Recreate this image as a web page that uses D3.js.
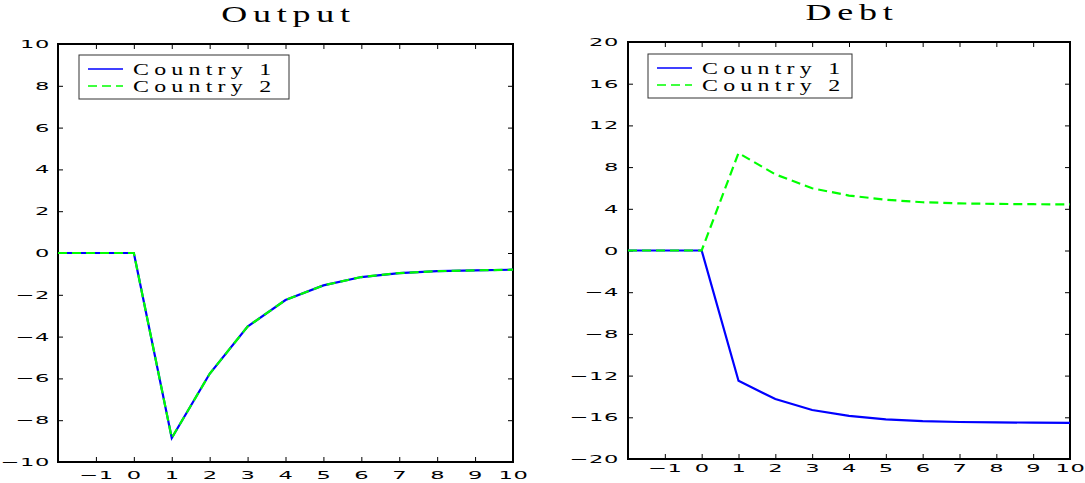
<!DOCTYPE html>
<html>
<head>
<meta charset="utf-8">
<script src="https://cdn.jsdelivr.net/npm/d3@7"></script>
<style>
  body { margin: 0; background: #fff; }
</style>
</head>
<body>
<script>
var periods = [-2, -1, 0, 1, 2, 3, 4, 5, 6, 7, 8, 9, 10];
var outputC1 = [0, 0, 0, -8.85, -5.78, -3.52, -2.25, -1.55, -1.15, -0.96, -0.87, -0.83, -0.80];
var outputC2 = [0, 0, 0, -8.85, -5.78, -3.52, -2.25, -1.55, -1.15, -0.96, -0.87, -0.83, -0.80];
var debtC1 = [0, 0, 0, -12.5, -14.25, -15.3, -15.87, -16.19, -16.37, -16.45, -16.49, -16.51, -16.53];
var debtC2 = [0, 0, 0, 9.35, 7.3, 5.97, 5.27, 4.87, 4.63, 4.52, 4.47, 4.44, 4.42];
var seriesNames = ["Country 1", "Country 2"];
var xTicks = [-1, 0, 1, 2, 3, 4, 5, 6, 7, 8, 9, 10];
var outputTicks = [-10, -8, -6, -4, -2, 0, 2, 4, 6, 8, 10];
var debtTicks = [-20, -16, -12, -8, -4, 0, 4, 8, 12, 16, 20];

var svg = d3.select("body")
            .append("svg")
            .attr('width', 1085)
            .attr('height', 483);

var tickSx = 2.05;      // glyphs in the reference are stretched wide
var titleSx = 1.6;
var legendSx = 1.45;

// stretched text: a group translated to the anchor, scaled horizontally
function wideText(parent, x, y, str, o) {
    parent.append("g")
          .attr('transform', "translate(" + x + "," + y + ") scale(" + o.sx + ",1)")
          .append("text")
          .attr('text-anchor', o.anchor || "start")
          .style('font-family', o.font)
          .style('font-size', o.size + "px")
          .style('letter-spacing', o.ls + "px")
          .attr('fill', "#000")
          .text(str);
}

function panel(p) {
    var g = svg.append("g");

    var x = d3.scaleLinear().domain([-2, 10]).range([p.x0, p.x1]);
    var y = d3.scaleLinear().domain(p.yDomain).range([p.y0, p.y1]);

    var tickFont = function(sel) {
        sel.selectAll("text")
           .style('font-family', "DejaVu Sans")
           .style('font-size', "11px")
           .style('letter-spacing', "0.3px")
           .attr('fill', "#000");
    };

    // bottom axis
    var bx = g.append("g")
              .attr('transform', "translate(0," + p.y0 + ")")
              .call(d3.axisBottom(x).tickValues(xTicks).tickSizeInner(-5).tickSizeOuter(0).tickPadding(p.xPad));
    tickFont(bx);
    bx.selectAll("text").attr('transform', "scale(" + tickSx + ",1)");

    // left axis
    var ly = g.append("g")
              .attr('transform', "translate(" + p.x0 + ",0)")
              .call(d3.axisLeft(y).tickValues(p.yTicks).tickSizeInner(-5).tickSizeOuter(0).tickPadding(p.yPad));
    tickFont(ly);
    ly.selectAll("text")
      .attr('x', -p.yPad / tickSx)
      .attr('transform', "scale(" + tickSx + ",1)");

    // top + right ticks, no labels
    g.append("g")
     .attr('transform', "translate(0," + p.y1 + ")")
     .call(d3.axisTop(x).tickValues(xTicks).tickSizeInner(-5).tickSizeOuter(0).tickFormat(""));
    g.append("g")
     .attr('transform', "translate(" + p.x1 + ",0)")
     .call(d3.axisRight(y).tickValues(p.yTicks).tickSizeInner(-5).tickSizeOuter(0).tickFormat(""));

    g.selectAll(".domain").remove();
    g.selectAll(".tick line").attr('stroke', "#000").attr('stroke-width', 1);

    g.append("rect")
     .attr('x', p.x0)
     .attr('y', p.y1)
     .attr('width', p.x1 - p.x0)
     .attr('height', p.y0 - p.y1)
     .attr('fill', "none")
     .attr('stroke', "#000")
     .attr('stroke-width', 2);

    var line = d3.line()
                 .x(function(d, i) { return x(periods[i]); })
                 .y(function(d) { return y(d); });

    g.append("path")
     .datum(p.s1)
     .attr('d', line)
     .attr('fill', "none")
     .attr('stroke', "#0000ff")
     .attr('stroke-width', 2.2);

    g.append("path")
     .datum(p.s2)
     .attr('d', line)
     .attr('fill', "none")
     .attr('stroke', "#00ff00")
     .attr('stroke-width', 2.2)
     .attr('stroke-dasharray', "9,5");

    // title
    wideText(g, (p.x0 + p.x1) / 2 + 3, p.titleY, p.title,
             {sx: titleSx, anchor: "middle", font: "Liberation Serif", size: 22.5, ls: 3.6});

    // legend
    var L = p.legend;
    g.append("rect")
     .attr('x', L.x).attr('y', L.y)
     .attr('width', L.w).attr('height', L.h)
     .attr('fill', "#fff")
     .attr('stroke', "#333")
     .attr('stroke-width', 1);

    var colors = ["#0000ff", "#00ff00"];
    var dashes = [null, "9,5"];
    seriesNames.forEach(function(name, i) {
        var ry = L.y + 14 + i * 17;
        g.append("line")
         .attr('x1', L.x + 9).attr('x2', L.x + 44)
         .attr('y1', ry).attr('y2', ry)
         .attr('stroke', colors[i])
         .attr('stroke-width', 1.5)
         .attr('stroke-dasharray', dashes[i]);
        wideText(g, L.x + 54, L.y + 20 + i * 17, name,
                 {sx: legendSx, font: "Liberation Serif", size: 16.5, ls: 3.6});
    });
}

panel({x0: 58, x1: 513, y0: 462, y1: 44, yDomain: [-10, 10], yTicks: outputTicks,
       s1: outputC1, s2: outputC2, title: "Output", titleY: 21.5,
       legend: {x: 79, y: 55, w: 210, h: 44}, yPad: 8, xPad: 9});

panel({x0: 628, x1: 1070, y0: 459, y1: 42, yDomain: [-20, 20], yTicks: debtTicks,
       s1: debtC1, s2: debtC2, title: "Debt", titleY: 20,
       legend: {x: 648, y: 54, w: 204, h: 44}, yPad: 9, xPad: 5});
</script>
</body>
</html>
